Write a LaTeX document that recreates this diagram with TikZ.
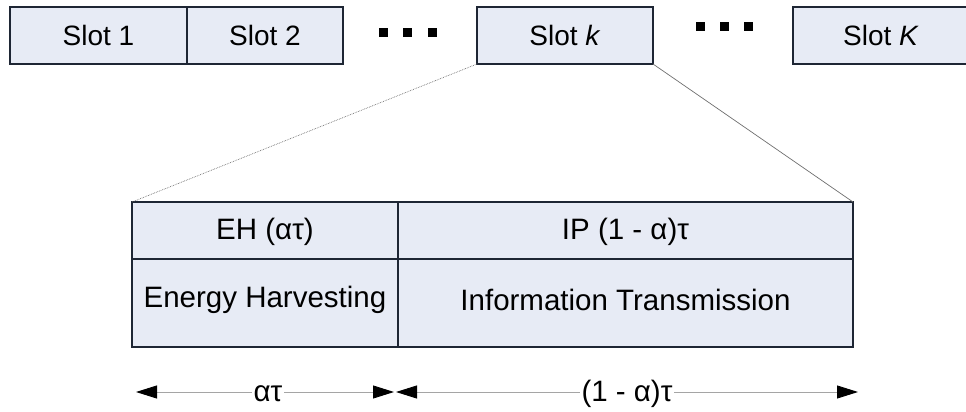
\documentclass[tikz,border=0pt]{standalone}
\usepackage{fontspec}
\setmainfont{Liberation Sans}
\usetikzlibrary{arrows.meta}
\definecolor{cellfill}{RGB}{231,235,245}
\definecolor{cellline}{RGB}{30,38,52}
\definecolor{linkgray}{RGB}{110,110,110}
\definecolor{dimgray}{RGB}{165,165,165}
\tikzset{
  cellbox/.style={draw=cellline, fill=cellfill, line width=2pt, inner sep=0pt, outer sep=0pt, anchor=north west},
  slottext/.style={font=\fontsize{28}{33}\selectfont, inner sep=0pt},
  celltext/.style={font=\fontsize{29.5}{35}\selectfont, inner sep=0pt},
  dimtext/.style={font=\fontsize{29.5}{35}\selectfont, fill=white, inner sep=2pt},
  dotsq/.style={fill=black, minimum size=9pt, inner sep=0pt},
  dimline/.style={draw=dimgray, line width=0.9pt, {Triangle[length=21pt,width=13pt,black]}-{Triangle[length=21pt,width=13pt,black]}},
  zoomline/.style={draw=linkgray, line width=0.7pt}
}
\begin{document}
\begin{tikzpicture}[x=1pt,y=-1pt]
\useasboundingbox (0,0) rectangle (966,412);
% top row of slots
\node[cellbox, minimum width=177pt, minimum height=57pt] (s1) at (10,7) {};
\node[cellbox, minimum width=156pt, minimum height=57pt] (s2) at (187,7) {};
\node[cellbox, minimum width=176pt, minimum height=57pt] (sk) at (477,7) {};
\node[cellbox, minimum width=180pt, minimum height=57pt] (sK) at (793,7) {};
\node[slottext] (t1) at (98.5,35) {Slot 1};
\node[slottext] (t2) at (265,35) {Slot 2};
\node[slottext] (tk) at (565,35) {Slot \textit{k}};
\node[slottext] (tK) at (881,35) {Slot \textit{K}};
% dots
\node[dotsq] (d1) at (383,33) {};
\node[dotsq] (d2) at (407,33) {};
\node[dotsq] (d3) at (432,33) {};
\node[dotsq] (d4) at (700,27) {};
\node[dotsq] (d5) at (724,27) {};
\node[dotsq] (d6) at (748,27) {};
% expanded slot
\node[cellbox, minimum width=266pt, minimum height=57pt] (ehtop) at (132,202) {};
\node[cellbox, minimum width=266pt, minimum height=88pt] (ehbot) at (132,259) {};
\node[cellbox, minimum width=455pt, minimum height=57pt] (iptop) at (398,202) {};
\node[cellbox, minimum width=455pt, minimum height=88pt] (ipbot) at (398,259) {};
\node[celltext] (lehtop) at (265,232) {EH (ατ)};
\node[celltext] (liptop) at (625.5,232) {IP (1 - α)τ};
\node[celltext] (lehbot) at (265,300) {Energy Harvesting};
\node[celltext] (lipbot) at (625.5,300) {Information Transmission};
% zoom connectors
\draw[zoomline, densely dotted] (sk.south west) -- (ehtop.north west);
\draw[zoomline] (sk.south east) -- (iptop.north east);
% dimension arrows
\coordinate (a1) at (136,392);
\coordinate (a2) at (394,392);
\coordinate (a3) at (396,392);
\coordinate (a4) at (858,392);
\draw[dimline] (a1) -- (a2);
\draw[dimline] (a3) -- (a4);
\node[dimtext] (dl1) at (268,394) {ατ};
\node[dimtext] (dl2) at (627,394) {(1 - α)τ};
\end{tikzpicture}
\end{document}
